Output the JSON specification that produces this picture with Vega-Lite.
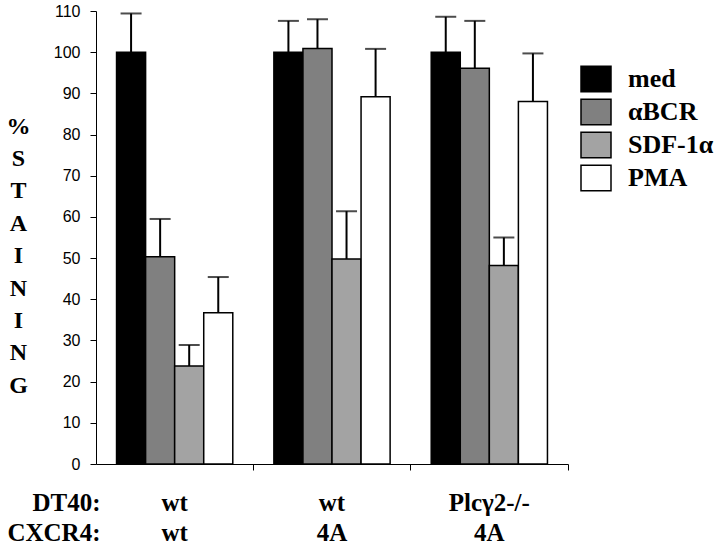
{
  "$schema": "https://vega.github.io/schema/vega-lite/v6.json",
  "width": 472,
  "height": 453,
  "autosize": "none",
  "padding": {"left": 96, "top": 11, "right": 152, "bottom": 84},
  "background": "white",
  "config": {"view": {"stroke": null}, "axis": {"grid": false}},
  "data": {
    "values": [
      {"group": "wt|wt", "treatment": "med", "value": 100, "top": 109.4},
      {"group": "wt|wt", "treatment": "αBCR", "value": 50.3, "top": 59.5},
      {"group": "wt|wt", "treatment": "SDF-1α", "value": 23.8, "top": 28.9},
      {"group": "wt|wt", "treatment": "PMA", "value": 36.7, "top": 45.4},
      {"group": "wt|4A", "treatment": "med", "value": 100, "top": 107.6},
      {"group": "wt|4A", "treatment": "αBCR", "value": 100.9, "top": 108.0},
      {"group": "wt|4A", "treatment": "SDF-1α", "value": 49.8, "top": 61.4},
      {"group": "wt|4A", "treatment": "PMA", "value": 89.2, "top": 100.8},
      {"group": "Plcγ2-/-|4A", "treatment": "med", "value": 100, "top": 108.6},
      {"group": "Plcγ2-/-|4A", "treatment": "αBCR", "value": 96.1, "top": 107.6},
      {"group": "Plcγ2-/-|4A", "treatment": "SDF-1α", "value": 48.2, "top": 55.0},
      {"group": "Plcγ2-/-|4A", "treatment": "PMA", "value": 88.0, "top": 99.7}
    ]
  },
  "resolve": {"axis": {"x": "independent"}},
  "layer": [
    {
      "mark": {"type": "bar", "stroke": "black", "strokeWidth": 1.5},
      "encoding": {
        "x": {
          "field": "group", "type": "nominal",
          "sort": ["wt|wt", "wt|4A", "Plcγ2-/-|4A"],
          "scale": {"paddingInner": 0, "paddingOuter": 0},
          "axis": {"orient": "bottom", "bandPosition": 1, "labels": false, "title": null, "tickSize": 6, "tickColor": "black", "domainColor": "black", "domainWidth": 1}
        },
        "xOffset": {
          "field": "treatment", "type": "nominal",
          "sort": ["med", "αBCR", "SDF-1α", "PMA"],
          "scale": {"paddingInner": 0, "paddingOuter": 0.707}
        },
        "y": {
          "field": "value", "type": "quantitative",
          "scale": {"domain": [0, 110], "nice": false},
          "axis": {
            "values": [0, 10, 20, 30, 40, 50, 60, 70, 80, 90, 100, 110],
            "tickSize": 6, "tickColor": "black", "domainColor": "black",
            "labelFont": "Liberation Sans", "labelFontSize": 16, "labelColor": "black", "labelPadding": 10,
            "title": ["%", "S", "T", "A", "I", "N", "I", "N", "G"],
            "titleAngle": 0, "titleFont": "'Liberation Serif', serif", "titleFontWeight": "bold", "titleFontSize": 24,
            "titleLineHeight": 32.4, "titleX": -78, "titleY": 122, "titleAlign": "center",
            "titleBaseline": "alphabetic", "titleColor": "black"
          }
        },
        "fill": {
          "field": "treatment", "type": "nominal",
          "sort": ["med", "αBCR", "SDF-1α", "PMA"],
          "scale": {"domain": ["med", "αBCR", "SDF-1α", "PMA"], "range": ["#000000", "#808080", "#a3a3a3", "#ffffff"]},
          "legend": {
            "orient": "none", "legendX": 484, "legendY": 52, "title": null,
            "symbolType": "M-1,-0.85H1V0.85H-1Z", "symbolSize": 900,
            "symbolStrokeColor": "black", "symbolStrokeWidth": 1.5, "symbolOpacity": 1,
            "labelFont": "'Liberation Serif', serif", "labelFontSize": 26, "labelFontWeight": "bold",
            "labelColor": "black", "labelOffset": 16, "rowPadding": 1, "padding": 0
          }
        }
      }
    },
    {
      "mark": {"type": "rule", "strokeWidth": 2, "color": "black"},
      "encoding": {
        "x": {
          "field": "group", "type": "nominal",
          "sort": ["wt|wt", "wt|4A", "Plcγ2-/-|4A"],
          "axis": {
            "orient": "bottom", "ticks": false, "tickSize": 0, "domain": false,
            "labelExpr": "split(datum.label, '|')", "labelAngle": 0,
            "labelFont": "'Liberation Serif', serif", "labelFontSize": 25, "labelFontWeight": "bold",
            "labelColor": "black", "labelBaseline": "alphabetic", "labelLineHeight": 30, "labelPadding": 46,
            "title": ["DT40:", "CXCR4:"], "titleX": 4, "titleY": 46, "titleAlign": "right",
            "titleBaseline": "alphabetic", "titleFont": "'Liberation Serif', serif", "titleFontSize": 25,
            "titleFontWeight": "bold", "titleLineHeight": 30, "titleColor": "black"
          }
        },
        "xOffset": {"field": "treatment", "type": "nominal", "sort": ["med", "αBCR", "SDF-1α", "PMA"]},
        "y": {"field": "value", "type": "quantitative"},
        "y2": {"field": "top"}
      }
    },
    {
      "mark": {"type": "tick", "color": "black", "thickness": 2, "size": 21},
      "encoding": {
        "x": {"field": "group", "type": "nominal", "sort": ["wt|wt", "wt|4A", "Plcγ2-/-|4A"], "axis": null},
        "xOffset": {"field": "treatment", "type": "nominal", "sort": ["med", "αBCR", "SDF-1α", "PMA"]},
        "y": {"field": "top", "type": "quantitative"}
      }
    }
  ]
}
